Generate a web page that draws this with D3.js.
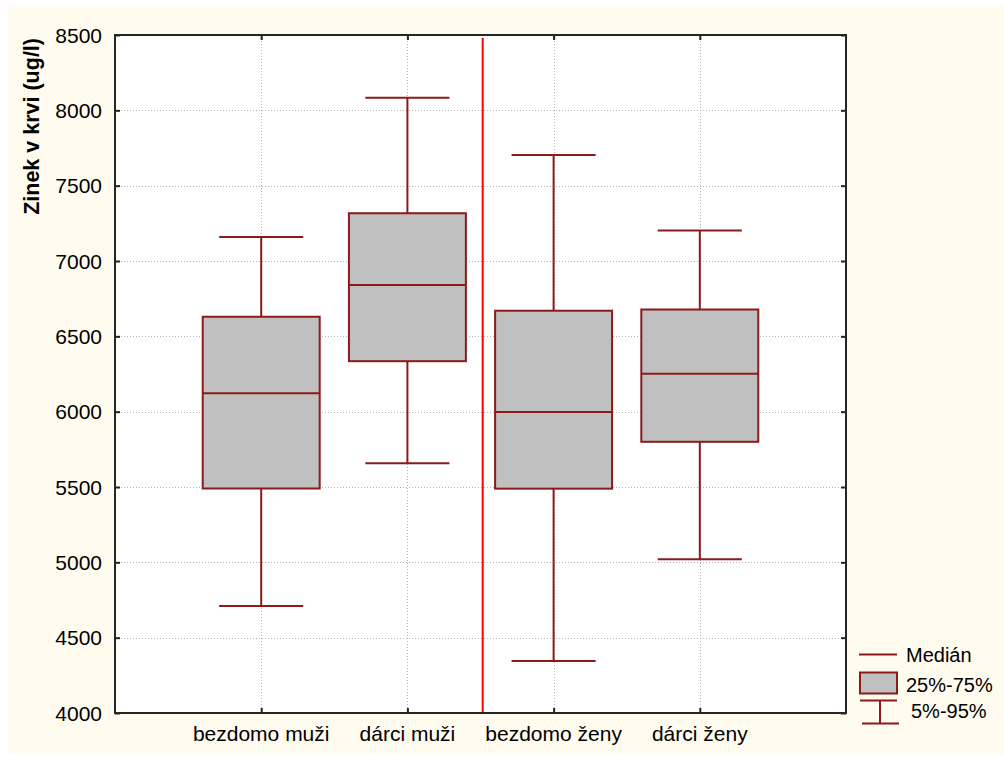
<!DOCTYPE html>
<html>
<head>
<meta charset="utf-8">
<script src="https://cdn.jsdelivr.net/npm/d3@7"></script>
<style>
  html, body { margin: 0; padding: 0; background: #ffffff; }
  svg { display: block; }
  text { font-family: "Liberation Sans", Arial, sans-serif; fill: #000; }
</style>
</head>
<body>
<svg id="chart" width="1004" height="757"></svg>
<script>
// ---- data ----
const categories = ["bezdomo muži", "dárci muži", "bezdomo ženy", "dárci ženy"];
const p5     = [4710, 5658, 4345, 5020];
const q25    = [5490, 6335, 5489, 5800];
const median = [6123, 6840, 5997, 6252];
const q75    = [6630, 7317, 6670, 6678];
const p95    = [7160, 8084, 7704, 7202];
const yTicks = [4000, 4500, 5000, 5500, 6000, 6500, 7000, 7500, 8000, 8500];
const yTitle = "Zinek v krvi (ug/l)";
const legendLabels = ["Medián", "25%-75%", "5%-95%"];
const separatorAt = 2.515; // red divider between men and women groups

// ---- layout ----
const svg = d3.select("#chart");
const plot = { left: 115, right: 846, top: 35, bottom: 713 };
const boxColor = "#8c1a1a", boxFill = "#c0c0c0";

svg.append("rect").attr("x", 8).attr("y", 5).attr("width", 996).attr("height", 749)
  .attr("fill", "#fffbef");

const x = d3.scaleLinear().domain([0, categories.length + 1]).range([plot.left, plot.right]);
const y = d3.scaleLinear().domain([4000, 8500]).range([plot.bottom, plot.top]);

svg.append("rect").attr("x", plot.left).attr("y", plot.top)
  .attr("width", plot.right - plot.left).attr("height", plot.bottom - plot.top)
  .attr("fill", "#ffffff");

// grid
const grid = svg.append("g").attr("stroke", "#b4b4b4").attr("stroke-width", 1)
  .attr("stroke-dasharray", "1,2");
grid.selectAll("line.h").data(yTicks.slice(1, -1)).join("line")
  .attr("x1", plot.left).attr("x2", plot.right)
  .attr("y1", d => Math.round(y(d)) + 0.5).attr("y2", d => Math.round(y(d)) + 0.5);
grid.selectAll("line.v").data(categories.map((c, i) => i + 1)).join("line")
  .attr("y1", plot.top).attr("y2", plot.bottom)
  .attr("x1", d => Math.round(x(d)) + 0.5).attr("x2", d => Math.round(x(d)) + 0.5);

// axes (inward ticks on all sides)
const axL = d3.axisRight(y).tickValues(yTicks).tickSize(5).tickFormat("");
const axR = d3.axisLeft(y).tickValues(yTicks).tickSize(5).tickFormat("");
const axB = d3.axisTop(x).tickValues(categories.map((c, i) => i + 1)).tickSize(5).tickFormat("");
const axT = d3.axisBottom(x).tickValues(categories.map((c, i) => i + 1)).tickSize(5).tickFormat("");
[[axL, `translate(${plot.left},0)`], [axR, `translate(${plot.right},0)`],
 [axB, `translate(0,${plot.bottom})`], [axT, `translate(0,${plot.top})`]].forEach(([ax, tr]) => {
  const g = svg.append("g").attr("transform", tr).call(ax);
  g.select(".domain").remove();
  g.selectAll(".tick line").attr("stroke", "#222").attr("stroke-width", 2);
});

// tick labels
svg.append("g").selectAll("text").data(yTicks).join("text")
  .attr("x", 102).attr("y", d => y(d)).attr("dy", "0.36em")
  .attr("text-anchor", "end").attr("font-size", 21).text(d => d);

svg.append("g").selectAll("text").data(categories).join("text")
  .attr("x", (d, i) => x(i + 1)).attr("y", 741)
  .attr("text-anchor", "middle").attr("font-size", 21).text(d => d);

// axis title
svg.append("text").attr("transform", "translate(38.5,38) rotate(-90)")
  .attr("text-anchor", "end").attr("font-size", 21.5).attr("font-weight", "bold")
  .text(yTitle);

// separator
svg.append("line").attr("x1", x(separatorAt)).attr("x2", x(separatorAt))
  .attr("y1", plot.top + 3).attr("y2", plot.bottom)
  .attr("stroke", "#ff0000").attr("stroke-width", 2);

// boxes
const unit = x(1) - x(0);
const boxW = unit * 0.8, capW = unit * 0.575;
const data = categories.map((c, i) => ({ c, i, p5: p5[i], q25: q25[i], med: median[i], q75: q75[i], p95: p95[i] }));
const bx = svg.append("g").attr("stroke", boxColor).attr("stroke-width", 2).attr("fill", "none");
const gs = bx.selectAll("g").data(data).join("g");
gs.append("line").attr("x1", d => x(d.i + 1)).attr("x2", d => x(d.i + 1))
  .attr("y1", d => y(d.p95)).attr("y2", d => y(d.q75));
gs.append("line").attr("x1", d => x(d.i + 1)).attr("x2", d => x(d.i + 1))
  .attr("y1", d => y(d.q25)).attr("y2", d => y(d.p5));
gs.append("line").attr("x1", d => x(d.i + 1) - capW / 2).attr("x2", d => x(d.i + 1) + capW / 2)
  .attr("y1", d => y(d.p95)).attr("y2", d => y(d.p95));
gs.append("line").attr("x1", d => x(d.i + 1) - capW / 2).attr("x2", d => x(d.i + 1) + capW / 2)
  .attr("y1", d => y(d.p5)).attr("y2", d => y(d.p5));
gs.append("rect").attr("x", d => x(d.i + 1) - boxW / 2).attr("width", boxW)
  .attr("y", d => y(d.q75)).attr("height", d => y(d.q25) - y(d.q75)).attr("fill", boxFill);
gs.append("line").attr("x1", d => x(d.i + 1) - boxW / 2).attr("x2", d => x(d.i + 1) + boxW / 2)
  .attr("y1", d => y(d.med)).attr("y2", d => y(d.med));

// plot frame
svg.append("rect").attr("x", plot.left).attr("y", plot.top)
  .attr("width", plot.right - plot.left).attr("height", plot.bottom - plot.top)
  .attr("fill", "none").attr("stroke", "#262626").attr("stroke-width", 2);

// legend
const lg = svg.append("g");
lg.append("line").attr("x1", 859).attr("x2", 897).attr("y1", 654.5).attr("y2", 654.5)
  .attr("stroke", boxColor).attr("stroke-width", 2);
lg.append("rect").attr("x", 860).attr("y", 672.5).attr("width", 37).attr("height", 21)
  .attr("fill", boxFill).attr("stroke", boxColor).attr("stroke-width", 2);
lg.append("line").attr("x1", 860).attr("x2", 897).attr("y1", 700.5).attr("y2", 700.5)
  .attr("stroke", boxColor).attr("stroke-width", 2);
lg.append("line").attr("x1", 880).attr("x2", 880).attr("y1", 700.5).attr("y2", 723.5)
  .attr("stroke", boxColor).attr("stroke-width", 2);
lg.append("line").attr("x1", 862).attr("x2", 899).attr("y1", 723.5).attr("y2", 723.5)
  .attr("stroke", boxColor).attr("stroke-width", 2);
const lgPos = [[906, 662], [906, 692], [911, 718]];
lg.selectAll("text").data(legendLabels).join("text")
  .attr("x", (d, i) => lgPos[i][0]).attr("y", (d, i) => lgPos[i][1])
  .attr("font-size", 20).text(d => d);
</script>
</body>
</html>
